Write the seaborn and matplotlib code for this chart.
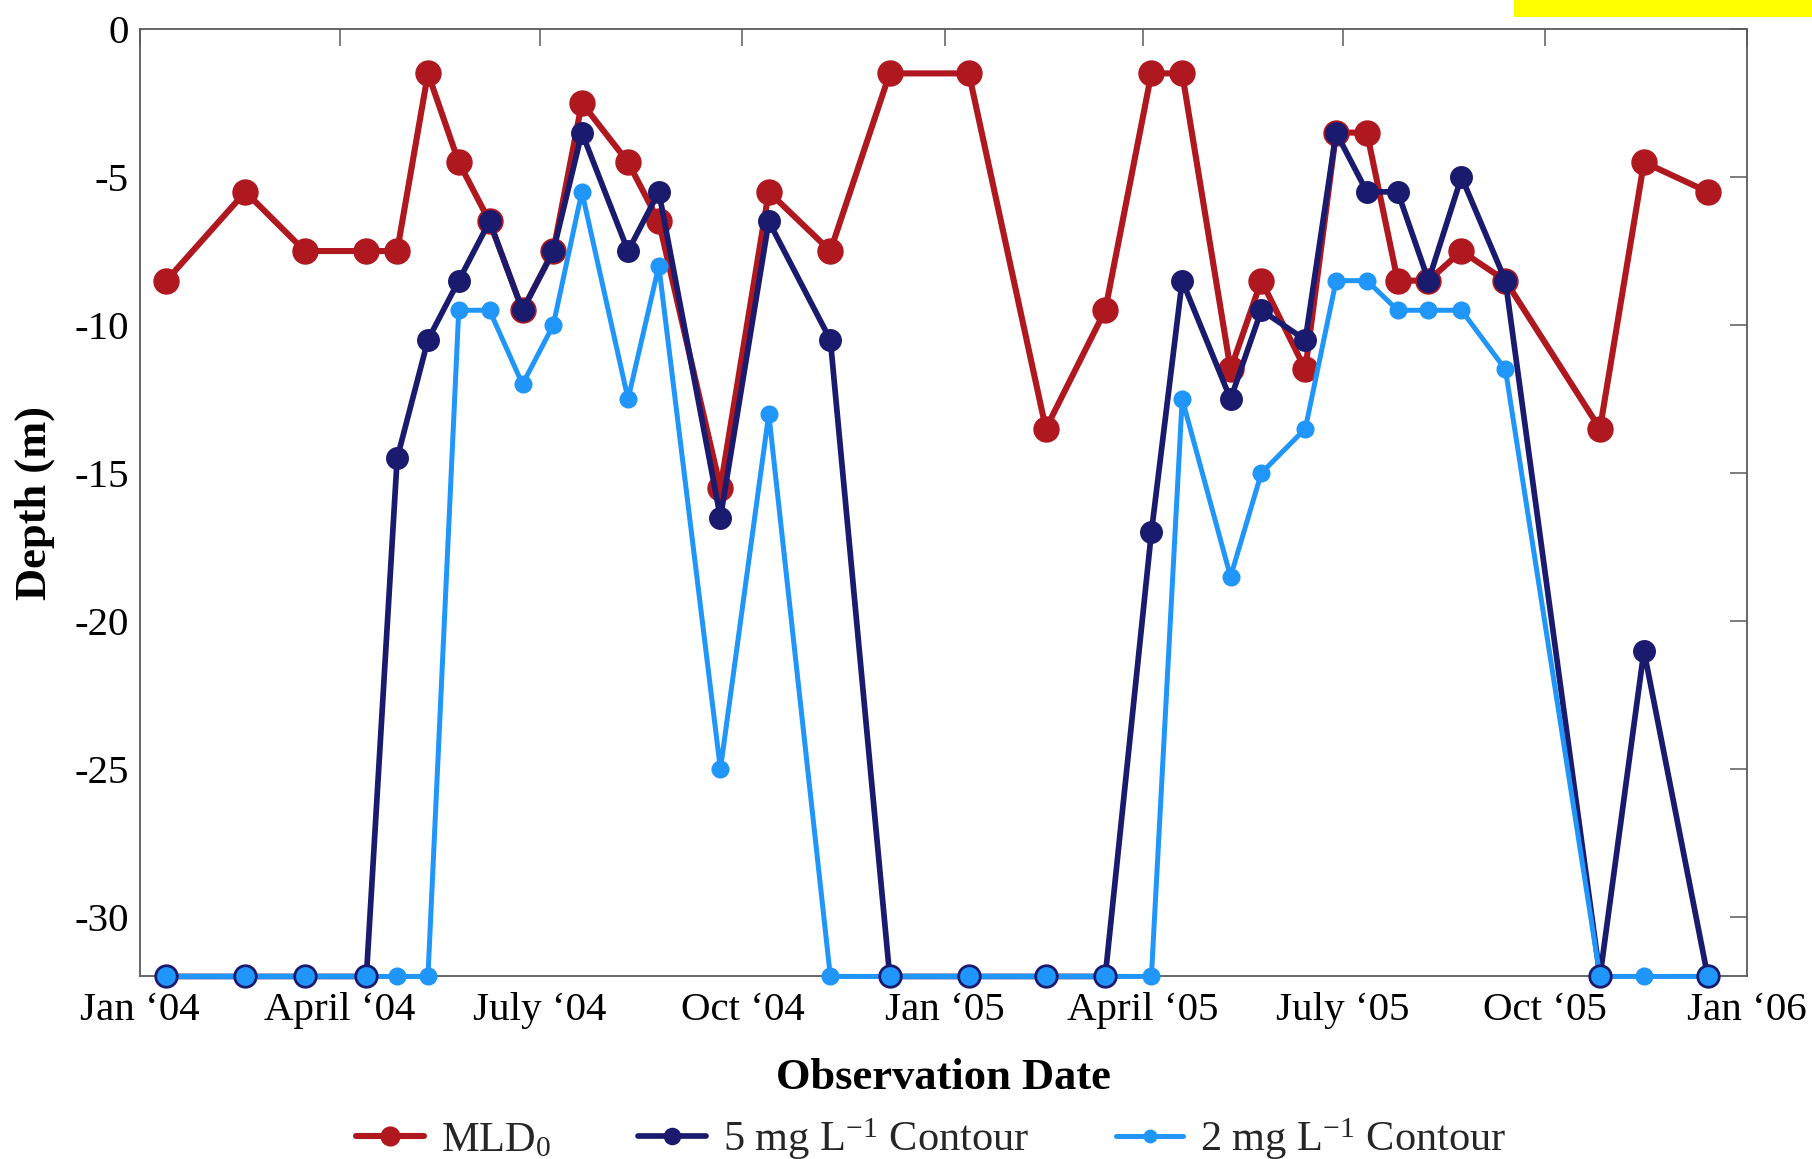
import matplotlib
matplotlib.use("Agg")
import matplotlib.pyplot as plt
from matplotlib.patches import Rectangle
import seaborn as sns
import pandas as pd

# ---------------- data ----------------
dates = ["2004-01-13", "2004-02-18", "2004-03-16", "2004-04-13", "2004-04-27",
         "2004-05-11", "2004-05-25", "2004-06-08", "2004-06-23", "2004-07-07",
         "2004-07-20", "2004-08-10", "2004-08-24", "2004-09-21", "2004-10-13",
         "2004-11-10", "2004-12-07", "2005-01-12", "2005-02-16", "2005-03-15",
         "2005-04-05", "2005-04-19", "2005-05-11", "2005-05-25", "2005-06-14",
         "2005-06-28", "2005-07-12", "2005-07-26", "2005-08-09", "2005-08-24",
         "2005-09-13", "2005-10-26", "2005-11-15", "2005-12-14"]

mld0 = [-8.5, -5.5, -7.5, -7.5, -7.5, -1.5, -4.5, -6.5, -9.5, -7.5,
        -2.5, -4.5, -6.5, -15.5, -5.5, -7.5, -1.5, -1.5, -13.5, -9.5,
        -1.5, -1.5, -11.5, -8.5, -11.5, -3.5, -3.5, -8.5, -8.5, -7.5,
        -8.5, -13.5, -4.5, -5.5]

contour5 = [-32, -32, -32, -32, -14.5, -10.5, -8.5, -6.5, -9.5, -7.5,
            -3.5, -7.5, -5.5, -16.5, -6.5, -10.5, -32, -32, -32, -32,
            -17, -8.5, -12.5, -9.5, -10.5, -3.5, -5.5, -5.5, -8.5, -5,
            -8.5, -32, -21, -32]

contour2 = [-32, -32, -32, -32, -32, -32, -9.5, -9.5, -12, -10,
            -5.5, -12.5, -8, -25, -13, -32, -32, -32, -32, -32,
            -32, -12.5, -18.5, -15, -13.5, -8.5, -8.5, -9.5, -9.5, -9.5,
            -11.5, -32, -32, -32]

tick_dates = ["2004-01-01", "2004-04-01", "2004-07-01", "2004-10-01", "2005-01-01",
              "2005-04-01", "2005-07-01", "2005-10-01", "2006-01-01"]
tick_labels = ["Jan \u201804", "April \u201804", "July \u201804", "Oct \u201804", "Jan \u201805",
               "April \u201805", "July \u201805", "Oct \u201805", "Jan \u201806"]
y_ticks = [0, -5, -10, -15, -20, -25, -30]

series_labels = ["MLD$_0$", "5 mg L$^{-1}$ Contour", "2 mg L$^{-1}$ Contour"]

# ---------------- style ----------------
sns.set_style("white")
plt.rcParams["font.family"] = ["Liberation Serif", "DejaVu Serif"]
plt.rcParams["mathtext.fontset"] = "custom"
plt.rcParams["mathtext.rm"] = "Liberation Serif"
plt.rcParams["mathtext.it"] = "Liberation Serif:italic"
plt.rcParams["mathtext.bf"] = "Liberation Serif:bold"
plt.rcParams["axes.unicode_minus"] = False

RED = "#B0181F"
NAVY = "#1A1A6E"
LBLUE = "#2196FA"

df = pd.DataFrame({
    "date": pd.to_datetime(dates),
    "mld0": mld0,
    "c5": contour5,
    "c2": contour2,
})

fig = plt.figure(figsize=(18.12, 11.59), dpi=100)
ax = fig.add_axes([0.0772, 0.1575, 0.8871, 0.8175])

sns.lineplot(data=df, x="date", y="mld0", ax=ax, color=RED, linewidth=4.4,
             marker="o", markersize=18, markeredgecolor=RED, markeredgewidth=1,
             clip_on=False, zorder=3, label=series_labels[0], errorbar=None)
sns.lineplot(data=df, x="date", y="c5", ax=ax, color=NAVY, linewidth=4.1,
             marker="o", markersize=15.5, markeredgecolor=NAVY, markeredgewidth=1,
             clip_on=False, zorder=4, label=series_labels[1], errorbar=None)
sns.lineplot(data=df, x="date", y="c2", ax=ax, color=LBLUE, linewidth=3.6,
             marker="o", markersize=12, markeredgecolor=LBLUE, markeredgewidth=1,
             clip_on=False, zorder=5, label=series_labels[2], errorbar=None)

# points where both contours sit at the bottom: light-blue face with navy edge
both = df[(df["c5"] == df["c2"])]
sns.scatterplot(data=both, x="date", y="c5", ax=ax, s=15.5 ** 2, color=LBLUE,
                edgecolor=NAVY, linewidth=2, clip_on=False, zorder=6, legend=False)

ax.set_xlim(pd.Timestamp(tick_dates[0]), pd.Timestamp(tick_dates[-1]))
ax.set_ylim(-32, 0)
ax.set_xticks(pd.to_datetime(tick_dates))
ax.set_xticklabels(tick_labels)
ax.set_yticks(y_ticks)
ax.set_yticklabels([str(v) for v in y_ticks])

ax.tick_params(axis="both", which="both", direction="in", length=12, width=1.1,
               color="#5a5a5a", labelsize=29.5, top=True, right=True,
               labelcolor="black")
ax.tick_params(axis="x", pad=11)
ax.tick_params(axis="y", pad=8)
for s in ax.spines.values():
    s.set_color("#5a5a5a")
    s.set_linewidth(1.3)
    s.set_visible(True)

ax.set_xlabel("Observation Date", fontsize=32, fontweight="bold", labelpad=21,
              color="black")
ax.set_ylabel("Depth (m)", fontsize=32, fontweight="bold", labelpad=14,
              color="black")

handles, labels = ax.get_legend_handles_labels()
ax.get_legend().remove()
fig.legend(handles[:3], labels[:3], loc="center", bbox_to_anchor=(0.514, 0.017),
           ncol=3, frameon=False, fontsize=30.5, handlelength=1.6,
           handletextpad=0.4, columnspacing=2.05, markerscale=0.75)

fig.patches.append(Rectangle((0.8355, 0.9853), 0.1645, 0.0147, transform=fig.transFigure,
                             facecolor="#FFFF00", edgecolor="none", zorder=10))

fig.savefig("out.png", dpi=100)
